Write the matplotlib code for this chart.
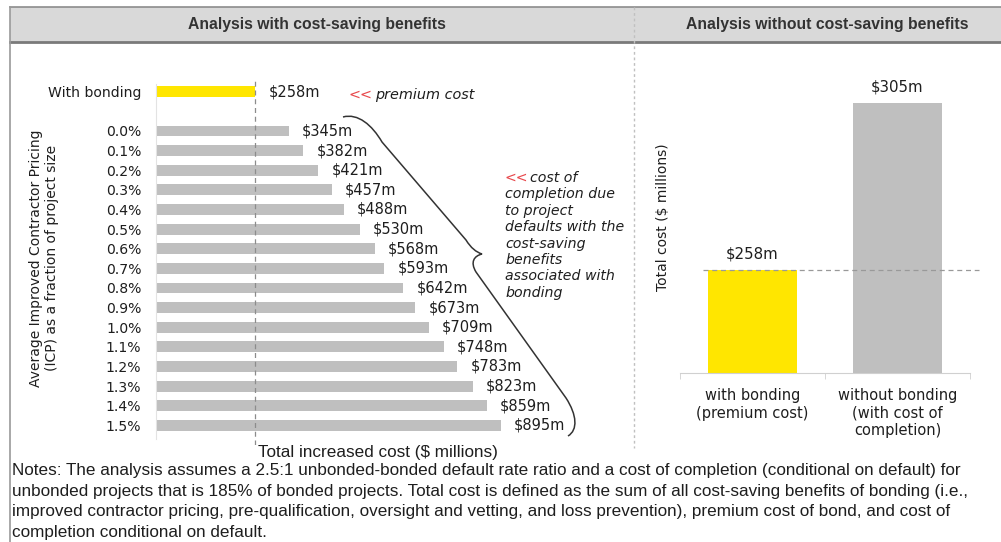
import matplotlib
matplotlib.use("Agg")
import matplotlib.pyplot as plt
from matplotlib.path import Path
from matplotlib.patches import PathPatch, Rectangle

# --- DATA ---
icp_labels = ["0.0%", "0.1%", "0.2%", "0.3%", "0.4%", "0.5%", "0.6%", "0.7%",
              "0.8%", "0.9%", "1.0%", "1.1%", "1.2%", "1.3%", "1.4%", "1.5%"]
icp_costs = [345, 382, 421, 457, 488, 530, 568, 593, 642, 673, 709, 748, 783, 823, 859, 895]
bonded_label = "With bonding"
bonded_cost = 258

compare_labels = ["with bonding\n(premium cost)", "without bonding\n(with cost of\ncompletion)"]
compare_costs = [258, 305]

notes = ("Notes: The analysis assumes a 2.5:1 unbonded-bonded default rate ratio and a cost of completion (conditional on default) for\n"
         "unbonded projects that is 185% of bonded projects. Total cost is defined as the sum of all cost-saving benefits of bonding (i.e.,\n"
         "improved contractor pricing, pre-qualification, oversight and vetting, and loss prevention), premium cost of bond, and cost of\n"
         "completion conditional on default.")

YELLOW = "#FFE600"
GREY = "#BFBFBF"
RED = "#E8474B"
INK = "#1e1e1e"
NARROW = "Liberation Sans"
HEAD = "Liberation Sans"

W, H = 1001, 542
fig = plt.figure(figsize=(W / 100, H / 100), dpi=100)

# background / frame drawn in pixel coordinates
bg = fig.add_axes([0, 0, 1, 1], zorder=0)
bg.set_xlim(0, W)
bg.set_ylim(H, 0)
bg.axis("off")

bg.add_patch(Rectangle((10, 7), W - 10, 35, facecolor="#d9d9d9", edgecolor="none"))
bg.plot([10, W], [7, 7], color="#8c8c8c", lw=1.2)
bg.plot([10, W], [42, 42], color="#7a7a7a", lw=2)
bg.plot([10, 10], [7, H], color="#9a9a9a", lw=1.2)
bg.plot([634, 634], [7, 448], color="#c0c0c0", lw=1, ls=(0, (2, 2)))

bg.text(317, 25, "Analysis with cost-saving benefits", ha="center", va="center",
        fontsize=11.3, fontweight="bold", family=HEAD, color="#333333")
bg.text(827, 25, "Analysis without cost-saving benefits", ha="center", va="center",
        fontsize=11.3, fontweight="bold", family=HEAD, color="#333333")

# left y label
bg.text(44, 258, "Average Improved Contractor Pricing\n(ICP) as a fraction of project size",
        rotation=90, ha="center", va="center", fontsize=10, color=INK, linespacing=1.25)

# left x label + notes
bg.text(378, 452, "Total increased cost ($ millions)", ha="center", va="center",
        fontsize=12.3, family=NARROW, color=INK)
bg.text(12, 463, notes, ha="left", va="top", fontsize=12.3, family=NARROW,
        color=INK, linespacing=1.47)

# annotations
bg.text(348, 95, "<<", color=RED, fontsize=10.4, va="center", ha="left")
bg.text(375, 95, "premium cost", style="italic", fontsize=10.4, va="center", ha="left", color=INK)

note_lines = ["cost of", "completion due", "to project", "defaults with the",
              "cost-saving", "benefits", "associated with", "bonding"]
bg.text(505, 178, "<<", color=RED, fontsize=10.2, va="center", ha="left")
for i, line in enumerate(note_lines):
    x0 = 530 if i == 0 else 505
    bg.text(x0, 178 + i * 16.4, line, style="italic", fontsize=10.2, va="center",
            ha="left", color=INK)

# curly brace
verts = [(343, 117), (358, 113), (372, 125), (382, 142),
         (466, 240),
         (471, 248), (476, 252), (482, 254),
         (474, 256), (470, 262), (476, 272),
         (566, 398),
         (577, 415), (578, 430), (568, 436)]
codes = [Path.MOVETO, Path.CURVE4, Path.CURVE4, Path.CURVE4,
         Path.LINETO,
         Path.CURVE4, Path.CURVE4, Path.CURVE4,
         Path.CURVE4, Path.CURVE4, Path.CURVE4,
         Path.LINETO,
         Path.CURVE4, Path.CURVE4, Path.CURVE4]
bg.add_patch(PathPatch(Path(verts, codes), facecolor="none", edgecolor="#333333", lw=1.1))

bg.text(663, 217, "Total cost ($ millions)", rotation=90, ha="center", va="center",
        fontsize=10, color=INK)

# --- left panel: horizontal bars ---
ax = fig.add_axes([156 / W, 1 - 445 / H, 385 / W, 367 / H], zorder=2)
ax.patch.set_alpha(0)
ypos = list(range(len(icp_labels)))
ax.barh([-2], [bonded_cost], height=0.55, color=YELLOW)
ax.barh(ypos, icp_costs, height=0.55, color=GREY)
ax.set_xlim(0, 1000)
ax.set_ylim(16.0, -2.7)
ax.axvline(bonded_cost, color="#8c8c8c", lw=0.9, ls=(0, (4, 3)))
ax.set_yticks([-2] + ypos)
ax.set_yticklabels([bonded_label] + icp_labels, fontsize=10.1, color=INK)
ax.tick_params(axis="y", length=0, pad=10.5)
ax.set_xticks([])
for s in ["top", "right", "bottom"]:
    ax.spines[s].set_visible(False)
ax.spines["left"].set_color("#e3e3e3")
ax.spines["left"].set_bounds(-2.4, 15.7)

ax.annotate(f"${bonded_cost}m", (bonded_cost, -2), xytext=(10, 0), textcoords="offset points",
            va="center", ha="left", fontsize=10.5, color=INK)
for y, v in zip(ypos, icp_costs):
    ax.annotate(f"${v}m", (v, y), xytext=(9.5, 0), textcoords="offset points",
                va="center", ha="left", fontsize=10.5, color=INK)

# --- right panel: vertical bars ---
ax2 = fig.add_axes([680 / W, 1 - 373 / H, 290 / W, 313 / H], zorder=2)
ax2.patch.set_alpha(0)
xpos = [0, 1]
ax2.bar(xpos, compare_costs, width=0.62, color=[YELLOW, GREY])
ax2.set_xlim(-0.5, 1.5)
ax2.set_ylim(229, 317.1)
ax2.axhline(compare_costs[0], xmin=0.08, xmax=1.03, color="#999999", lw=0.9,
            ls=(0, (4, 3)), clip_on=False, zorder=3)
for x, v in zip(xpos, compare_costs):
    ax2.annotate(f"${v}m", (x, v), xytext=(0, 6), textcoords="offset points",
                 ha="center", va="bottom", fontsize=10.8, color=INK)
ax2.set_xticks(xpos)
ax2.set_xticklabels(compare_labels, fontsize=10.5, color=INK)
ax2.set_xticks([-0.5, 0.5, 1.5], minor=True)
ax2.tick_params(axis="x", which="major", length=0, pad=11)
ax2.tick_params(axis="x", which="minor", length=4, color="#d0d0d0")
ax2.set_yticks([])
for s in ["top", "right", "left"]:
    ax2.spines[s].set_visible(False)
ax2.spines["bottom"].set_color("#d0d0d0")

fig.savefig("out.png", dpi=100)
